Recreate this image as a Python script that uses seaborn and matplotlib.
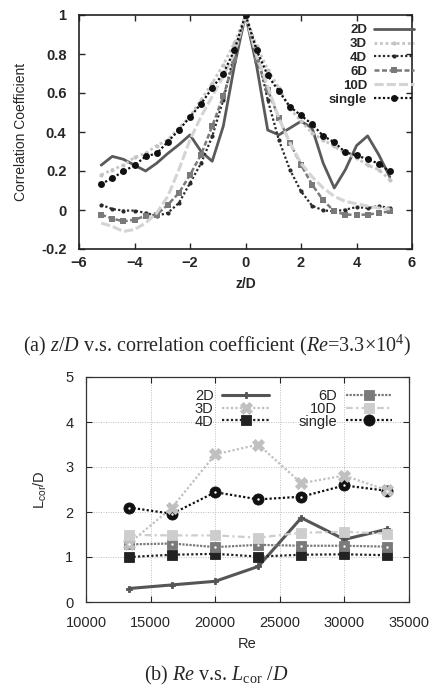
import numpy as np
import pandas as pd
import matplotlib
matplotlib.use("Agg")
import matplotlib.pyplot as plt
import seaborn as sns

# ---- (a) spanwise correlation at Re = 3.3e4 ----
z_d = [-5.2, -4.8, -4.4, -4.0, -3.6, -3.2, -2.8, -2.4, -2.0, -1.6, -1.2, -0.8, -0.4, 0.0,
       0.4, 0.8, 1.2, 1.6, 2.0, 2.4, 2.8, 3.2, 3.6, 4.0, 4.4, 4.8, 5.2]
corr_2d = [0.23, 0.275, 0.26, 0.23, 0.20, 0.24, 0.29, 0.335, 0.385, 0.30, 0.25, 0.43, 0.74, 1.0,
           0.74, 0.41, 0.385, 0.42, 0.455, 0.42, 0.24, 0.113, 0.207, 0.33, 0.38, 0.284, 0.17]
corr_3d = [0.18, 0.207, 0.23, 0.27, 0.29, 0.33, 0.36, 0.42, 0.48, 0.565, 0.65, 0.745, 0.856, 1.0,
           0.84, 0.72, 0.626, 0.52, 0.455, 0.395, 0.36, 0.326, 0.29, 0.267, 0.23, 0.207, 0.155]
corr_4d = [0.027, 0.005, -0.003, -0.003, -0.015, -0.03, -0.015, 0.036, 0.138, 0.24, 0.377, 0.565, 0.805, 1.0,
           0.82, 0.565, 0.36, 0.207, 0.096, 0.022, -0.002, -0.007, 0.002, 0.015, 0.01, 0.02, 0.01]
corr_6d = [-0.024, -0.044, -0.058, -0.05, -0.03, -0.024, 0.027, 0.087, 0.18, 0.284, 0.43, 0.583, 0.77, 1.0,
           0.77, 0.617, 0.472, 0.344, 0.232, 0.13, 0.05, -0.007, -0.024, -0.024, -0.024, -0.015, -0.007]
corr_10d = [-0.067, -0.084, -0.11, -0.10, -0.067, -0.015, 0.07, 0.207, 0.36, 0.48, 0.583, 0.685, 0.805, 1.0,
            0.79, 0.634, 0.472, 0.344, 0.24, 0.17, 0.113, 0.07, 0.044, 0.032, 0.02, 0.01, 0.005]
corr_single = [0.133, 0.164, 0.198, 0.229, 0.275, 0.29, 0.35, 0.41, 0.477, 0.545, 0.626, 0.70, 0.82, 1.0,
               0.82, 0.69, 0.61, 0.53, 0.485, 0.44, 0.38, 0.347, 0.296, 0.28, 0.26, 0.238, 0.198]

# ---- (b) correlation length vs Reynolds number ----
re_vals = [13333, 16667, 20000, 23333, 26667, 30000, 33333]
lcor_2d = [0.30, 0.38, 0.46, 0.79, 1.87, 1.39, 1.62]
lcor_3d = [1.30, 2.10, 3.28, 3.50, 2.64, 2.81, 2.48]
lcor_4d = [1.00, 1.05, 1.07, 1.01, 1.05, 1.06, 1.04]
lcor_6d = [1.28, 1.30, 1.22, 1.27, 1.25, 1.25, 1.23]
lcor_10d = [1.49, 1.48, 1.48, 1.43, 1.54, 1.56, 1.52]
lcor_single = [2.10, 1.96, 2.44, 2.28, 2.34, 2.59, 2.47]

labels = ["2D", "3D", "4D", "6D", "10D", "single"]

sns.set_style("ticks")
plt.rcParams["font.family"] = ["Liberation Sans", "DejaVu Sans"]
plt.rcParams["mathtext.fontset"] = "custom"
plt.rcParams["mathtext.rm"] = "Liberation Serif"
plt.rcParams["mathtext.it"] = "Liberation Serif:italic"

W, H = 433, 694
fig = plt.figure(figsize=(W / 100, H / 100), dpi=100)


def px_axes(left, top, right, bottom):
    return fig.add_axes([left / W, 1 - bottom / H, (right - left) / W, (bottom - top) / H])


# ------------------------------------------------------------ panel (a)
ax1 = px_axes(79, 15, 412, 249)
styles_a = [
    dict(color="#5a5a5a", lw=2.0, ls="-", marker=None),
    dict(color="#c4c4c4", lw=2.0, ls=(0, (1, 1)), marker="o", ms=3),
    dict(color="#2a2a2a", lw=1.6, ls=(0, (1, 1)), marker="o", ms=3),
    dict(color="#7a7a7a", lw=1.8, ls=(0, (2, 1)), marker="s", ms=5),
    dict(color="#d4d4d4", lw=2.2, ls=(0, (3, 1)), marker=None),
    dict(color="#111111", lw=1.6, ls=(0, (1, 1)), marker="o", ms=5),
]
series_a = [corr_2d, corr_3d, corr_4d, corr_6d, corr_10d, corr_single]
for lab, vals, st in zip(labels, series_a, styles_a):
    df = pd.DataFrame({"z": z_d, "c": vals})
    sns.lineplot(data=df, x="z", y="c", ax=ax1, label=lab, color=st["color"],
                 linewidth=st["lw"], linestyle=st["ls"], marker=st["marker"],
                 markersize=st.get("ms", 0), markeredgewidth=0,
                 markerfacecolor=st["color"])
ax1.set_xlim(-6, 6)
ax1.set_ylim(-0.2, 1.0)
ax1.set_xticks([-6, -4, -2, 0, 2, 4, 6])
ax1.set_yticks([-0.2, 0, 0.2, 0.4, 0.6, 0.8, 1.0])
ax1.set_yticklabels(["-0.2", "0", "0.2", "0.4", "0.6", "0.8", "1"])
ax1.tick_params(direction="in", length=4, width=1, top=True, right=True,
                labelsize=10.5)
ax1.tick_params(axis="y", pad=9)
ax1.tick_params(axis="x", pad=5)
for t in ax1.get_xticklabels() + ax1.get_yticklabels():
    t.set_fontweight("bold")
for s in ax1.spines.values():
    s.set_linewidth(1.2)
    s.set_color("#222222")
ax1.set_xlabel("z/D", fontsize=10, fontweight="bold", labelpad=5)
ax1.set_ylabel("Correlation Coefficient", fontsize=10, labelpad=9)
leg1 = ax1.legend(loc="upper right", bbox_to_anchor=(1.035, 1.0), frameon=False,
                  markerfirst=False, fontsize=9.5, handlelength=3.1,
                  labelspacing=0.12, handletextpad=0.5, borderpad=0.2)
for t in leg1.get_texts():
    t.set_fontweight("bold")

fig.text(0.5, 1 - 345 / H,
         r"(a) $\it{z/D}$ v.s. correlation coefficient ($\it{Re}$=3.3$\times$10$^{4}$)",
         ha="center", va="center", fontsize=14.5, family="Liberation Serif")

# ------------------------------------------------------------ panel (b)
ax2 = px_axes(86, 377, 409, 602)
styles_b = [
    dict(color="#555555", lw=2.2, ls="-", marker="P", ms=5, mfc="#555555"),
    dict(color="#c0c0c0", lw=1.6, ls=(0, (1, 1)), marker="X", ms=8, mfc="#c0c0c0"),
    dict(color="#222222", lw=1.6, ls=(0, (1, 1)), marker="s", ms=7, mfc="#222222"),
    dict(color="#7a7a7a", lw=1.6, ls=(0, (1, 0.6)), marker="s", ms=7, mfc="#7a7a7a"),
    dict(color="#cdcdcd", lw=1.6, ls=(0, (3, 1.5, 1, 1.5)), marker="s", ms=7, mfc="#cdcdcd"),
    dict(color="#111111", lw=1.6, ls=(0, (1, 1)), marker="o", ms=8, mfc="#111111"),
]
series_b = [lcor_2d, lcor_3d, lcor_4d, lcor_6d, lcor_10d, lcor_single]
order_b = [1, 4, 2, 3, 5, 0]
for lab, vals, st, zo in zip(labels, series_b, styles_b, order_b):
    df = pd.DataFrame({"Re": re_vals, "L": vals})
    sns.lineplot(data=df, x="Re", y="L", ax=ax2, label=lab, color=st["color"],
                 linewidth=st["lw"], linestyle=st["ls"], marker=st["marker"],
                 markersize=st["ms"], markeredgewidth=0.6,
                 markeredgecolor=st["color"], markerfacecolor=st["mfc"], zorder=3 + zo)
# small white dots inside the 6D squares and single circles
ax2.scatter(re_vals, lcor_6d, s=3, color="white", zorder=20, linewidths=0)
ax2.scatter(re_vals, lcor_single, s=3, color="white", zorder=20, linewidths=0)

ax2.set_xlim(10000, 35000)
ax2.set_ylim(0, 5)
ax2.set_xticks([10000, 15000, 20000, 25000, 30000, 35000])
ax2.set_yticks([0, 1, 2, 3, 4, 5])
ax2.grid(True, color="#bdbdbd", linestyle=(0, (1, 1.5)), linewidth=0.7)
ax2.tick_params(direction="in", length=4, width=0.8, top=True, right=True,
                labelsize=10.5)
ax2.tick_params(axis="x", pad=10)
ax2.tick_params(axis="y", pad=9)
for s in ax2.spines.values():
    s.set_linewidth(0.9)
    s.set_color("#333333")
ax2.set_xlabel("Re", fontsize=10.5, labelpad=5)
ax2.set_ylabel(r"$\mathregular{L_{cor}}$/D", fontsize=10.5, labelpad=12)

handles, labs = ax2.get_legend_handles_labels()
# two-column legend: 2D/3D/4D on the left, 6D/10D/single on the right
leg2 = ax2.legend(handles, labs, loc="upper right", bbox_to_anchor=(0.98, 0.99),
                  ncol=2, frameon=False, markerfirst=False, fontsize=10.5,
                  handlelength=3.2, labelspacing=-0.1, handletextpad=0.6,
                  columnspacing=2.0, borderpad=0.2)

fig.text(0.5, 1 - 675 / H, r"(b) $\it{Re}$ v.s. $\it{L}_{\rm cor}$ /$\it{D}$",
         ha="center", va="center", fontsize=14.5, family="Liberation Serif")

fig.savefig("out.png", dpi=100)
